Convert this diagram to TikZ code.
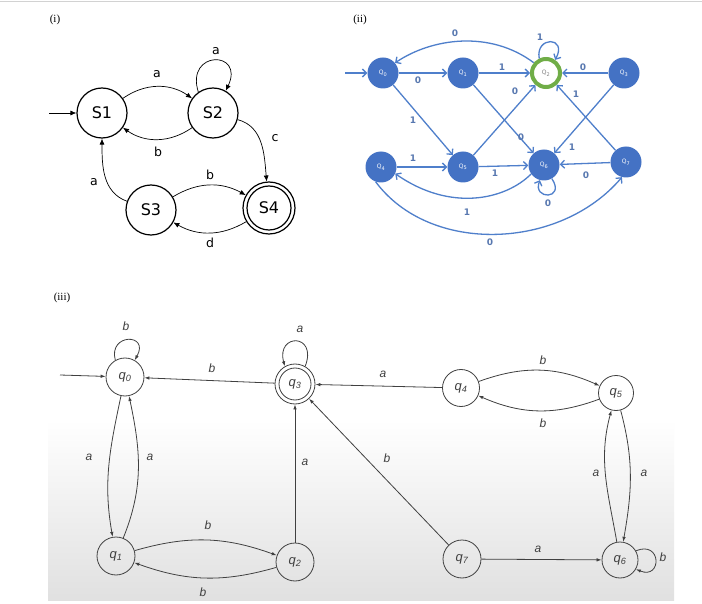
\documentclass[tikz,border=0pt]{standalone}
\usepackage{fontspec}
\setmainfont{Liberation Serif}
\newfontfamily\dejavu{DejaVu Sans}
\newfontfamily\arialf{Liberation Sans}
\usetikzlibrary{arrows.meta}
\definecolor{nodeblue}{HTML}{4472C4}
\definecolor{edgeblue}{HTML}{4F7FCB}
\definecolor{lblblue}{HTML}{5878B0}
\definecolor{ringgreen}{HTML}{70AD47}
\definecolor{inkgray}{HTML}{404040}
\begin{document}
\begin{tikzpicture}[x=1pt,y=1pt,
  stA/.style={circle, draw=black, line width=1.2pt, minimum size=50pt, inner sep=0pt, font=\dejavu\fontsize{16}{16}\selectfont},
  edA/.style={-{Latex[length=6pt,width=5pt]}, line width=0.7pt},
  lbA/.style={font=\dejavu\fontsize{12.5}{13}\selectfont},
  stB/.style={circle, fill=nodeblue, minimum size=31pt, inner sep=0pt, text=white, font=\dejavu\fontsize{6}{6}\selectfont},
  edB/.style={draw=edgeblue, line width=1.3pt, -{Straight Barb[length=4pt,width=8pt]}},
  lbB/.style={text=lblblue, font=\dejavu\bfseries\fontsize{9}{9}\selectfont},
  stC/.style={circle, draw=inkgray, line width=0.8pt, minimum size=38pt, inner sep=0pt, text=inkgray, font=\arialf\itshape\fontsize{13}{13}\selectfont},
  edC/.style={draw=inkgray, line width=0.8pt, -{Latex[length=5pt,width=3.5pt]}},
  lbC/.style={text=inkgray, font=\arialf\itshape\fontsize{12}{12}\selectfont},
  tag/.style={font=\fontsize{11}{11}\selectfont}
]
\useasboundingbox (0,0) rectangle (702,-604);
\fill[white] (0,0) rectangle (702,-604);
\draw[gray!35, line width=1pt] (0,-2) -- (702,-2);
\shade[top color=white, bottom color=black!12] (48,-420) rectangle (674,-600);

% ---------------- (i)
\node[tag] (t1) at (55,-20) {(i)};
\node[stA] (S1) at (102,-113) {S1};
\node[stA] (S2) at (213,-113) {S2};
\node[stA] (S3) at (151,-210) {S3};
\node[stA, minimum size=52pt] (S4) at (269,-208) {S4};
\draw[line width=1.2pt] (S4.center) circle (22pt);
\coordinate (i0) at (49,-113);
\draw[edA] (i0) -- (S1);
\draw[edA] (S1) to[bend left=35] (S2) node[lbA] at (157,-74) {a};
\draw[edA] (S2) to[bend left=35] (S1) node[lbA] at (158,-152) {b};
\draw[edA] (S2.125) .. controls (185,-50) and (245,-50) .. (S2.60) node[lbA] at (216,-51) {a};
\draw[edA] (S2) to[out=-15, in=95] (S4) node[lbA] at (275,-138) {c};
\draw[edA] (S3) to[out=160, in=-90] (S1) node[lbA] at (94,-182) {a};
\draw[edA] (S3) to[bend left=30] (S4) node[lbA] at (210,-175) {b};
\draw[edA] (S4) to[bend left=30] (S3) node[lbA] at (210,-243) {d};

% ---------------- (ii)
\node[tag] (t2) at (360,-20) {(ii)};
\node[stB] (Q0) at (383,-73) {Q\textsubscript{0}};
\node[stB] (Q1) at (463,-73) {Q\textsubscript{1}};
\node[circle, draw=ringgreen, line width=4pt, fill=white, minimum size=28pt, inner sep=0pt, text=gray, font=\dejavu\fontsize{6}{6}\selectfont] (Q2) at (546,-73) {Q\textsubscript{2}};
\node[stB] (Q3) at (624,-73) {Q\textsubscript{3}};
\node[stB] (Q4) at (381,-167) {Q\textsubscript{4}};
\node[stB] (Q5) at (463,-167) {Q\textsubscript{5}};
\node[stB] (Q6) at (544,-165) {Q\textsubscript{6}};
\node[stB] (Q7) at (626,-162) {Q\textsubscript{7}};
\coordinate (iq) at (345,-73);
\draw[edB] (iq) -- (Q0);
\draw[edB] (Q0) -- (Q1) node[lbB] at (418,-80) {0};
\draw[edB] (Q1) -- (Q2) node[lbB] at (502,-67) {1};
\draw[edB] (Q3) -- (Q2) node[lbB] at (583,-67) {0};
\draw[edB] (Q2.140) .. controls (490,-30) and (432,-38) .. (Q0.40) node[lbB] at (455,-33) {0};
\draw[edB] (Q2.115) .. controls (535,-36) and (568,-36) .. (Q2.55) node[lbB] at (540,-37) {1};
\draw[edB] (Q0) -- (Q5) node[lbB] at (413,-120) {1};
\draw[edB] (Q1) -- (Q6) node[lbB] at (521,-137) {0};
\draw[edB] (Q5) -- (Q2) node[lbB] at (515,-91) {0};
\draw[edB] (Q7) -- (Q2) node[lbB] at (576,-94) {1};
\draw[edB] (Q3) -- (Q6) node[lbB] at (572,-147) {1};
\draw[edB] (Q4) -- (Q5) node[lbB] at (413,-158) {1};
\draw[edB] (Q5) -- (Q6) node[lbB] at (495,-173) {1};
\draw[edB] (Q7) -- (Q6) node[lbB] at (586,-175) {0};
\draw[edB] (Q6.-60) .. controls (566,-200) and (532,-200) .. (Q6.-105) node[lbB] at (548,-203) {0};
\draw[edB] (Q6.215) .. controls (505,-200) and (450,-212) .. (Q4.-25) node[lbB] at (467,-212) {1};
\draw[edB] (Q4.-110) .. controls (430,-255) and (560,-250) .. (Q7.-105) node[lbB] at (490,-242) {0};

% ---------------- (iii)
\node[tag] (t3) at (62,-298) {(iii)};
\node[stC] (p0) at (125,-377) {q\textsubscript{0}};
\node[stC, minimum size=40pt] (p3) at (295,-384) {q\textsubscript{3}};
\draw[inkgray, line width=0.8pt] (p3.center) circle (16pt);
\node[stC] (p1) at (116,-556) {q\textsubscript{1}};
\node[stC] (p2) at (295,-562) {q\textsubscript{2}};
\node[stC, minimum size=37pt] (p4) at (461,-388) {q\textsubscript{4}};
\node[stC, minimum size=35pt] (p5) at (616,-393) {q\textsubscript{5}};
\node[stC, minimum size=36pt] (p6) at (620,-560) {q\textsubscript{6}};
\node[stC] (p7) at (462,-559) {q\textsubscript{7}};
\coordinate (ip) at (60,-375);
\draw[edC] (ip) -- (p0);
\draw[edC] (p0.120) .. controls (108,-333) and (150,-333) .. (p0.60) node[lbC] at (126,-326) {b};
\draw[edC] (p3.60) .. controls (318,-333) and (276,-333) .. (p3.120) node[lbC] at (300,-329) {a};
\draw[edC] (p3) -- (p0) node[lbC] at (212,-368) {b};
\draw[edC] (p4) -- (p3) node[lbC] at (383,-374) {a};
\draw[edC] (p0) to[out=258, in=100] (p1) node[lbC] at (89,-457) {a};
\draw[edC] (p1) to[out=68, in=282] (p0) node[lbC] at (150,-457) {a};
\draw[edC] (p1) to[bend left=18] (p2) node[lbC] at (208,-525) {b};
\draw[edC] (p2) to[bend left=18] (p1) node[lbC] at (203,-592) {b};
\draw[edC] (p2) -- (p3) node[lbC] at (305,-462) {a};
\draw[edC] (p7) -- (p3) node[lbC] at (387,-458) {b};
\draw[edC] (p4) to[bend left=22] (p5) node[lbC] at (543,-360) {b};
\draw[edC] (p5) to[bend left=22] (p4) node[lbC] at (543,-423) {b};
\draw[edC] (p5) to[out=-75, in=80] (p6) node[lbC] at (644,-473) {a};
\draw[edC] (p6) to[out=100, in=255] (p5) node[lbC] at (596,-473) {a};
\draw[edC] (p7) -- (p6) node[lbC] at (538,-549) {a};
\draw[edC] (p6.30) .. controls (662,-540) and (662,-580) .. (p6.-30) node[lbC] at (663,-557) {b};
\end{tikzpicture}
\end{document}
